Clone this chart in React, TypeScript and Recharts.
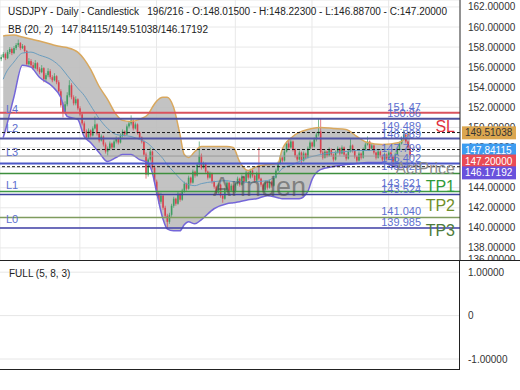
import {
  ComposedChart,
  Bar,
  Line,
  Area,
  XAxis,
  YAxis,
  CartesianGrid,
  ReferenceLine,
} from "recharts";

const SLOTS = 216;

// daily bars: [open, high, low, close]
const candles: number[][] = [
  [156.8, 157.25, 156.6, 157.0], [157.0, 157.5, 156.9, 157.3], [157.3, 157.45, 156.7, 156.9], [156.9, 157.7, 156.8, 157.5],
  [157.5, 158.0, 157.3, 157.8], [157.8, 157.95, 157.2, 157.4], [157.4, 158.1, 157.3, 157.9], [157.9, 158.4, 157.7, 158.2],
  [158.2, 158.75, 158.0, 158.4], [158.4, 158.5, 157.7, 157.9], [157.9, 158.3, 157.8, 158.1], [158.1, 158.2, 157.4, 157.6],
  [157.6, 157.7, 156.1, 156.3], [156.3, 156.9, 156.1, 156.6], [156.6, 156.8, 156.0, 156.2], [156.2, 156.5, 155.7, 155.9],
  [155.9, 156.7, 155.8, 156.4], [156.4, 156.5, 155.6, 155.8], [155.8, 156.0, 155.3, 155.5], [155.5, 156.2, 155.4, 155.9],
  [155.9, 156.0, 154.5, 154.8], [154.8, 155.4, 154.6, 155.2], [155.2, 155.9, 155.0, 155.6], [155.6, 155.8, 154.8, 155.0],
  [155.0, 155.2, 154.5, 154.7], [154.7, 155.4, 154.6, 155.1], [155.1, 155.2, 154.3, 154.5], [154.5, 154.7, 153.4, 153.6],
  [153.6, 153.8, 152.0, 152.2], [152.2, 152.5, 151.0, 151.5], [151.5, 152.6, 151.3, 152.3], [152.3, 153.5, 152.1, 153.2],
  [153.2, 154.7, 153.0, 154.2], [154.2, 154.4, 152.8, 153.0], [153.0, 153.2, 152.2, 152.4], [152.4, 153.1, 152.2, 152.8],
  [152.8, 152.9, 151.7, 151.9], [151.9, 152.1, 151.1, 151.3], [151.3, 151.5, 150.2, 150.4], [150.4, 150.6, 149.4, 149.6],
  [149.6, 149.8, 148.8, 149.0], [149.0, 149.9, 148.9, 149.7], [149.7, 149.8, 149.0, 149.2], [149.2, 150.1, 149.1, 149.9],
  [149.9, 151.1, 149.8, 150.3], [150.3, 150.4, 149.2, 149.4], [149.4, 149.5, 148.5, 148.7], [148.7, 149.3, 148.6, 149.1],
  [149.1, 149.2, 148.1, 148.3], [148.3, 148.5, 147.4, 147.6], [147.6, 148.1, 147.2, 147.9], [147.9, 148.6, 147.7, 148.4],
  [148.4, 148.5, 147.8, 148.0], [148.0, 148.8, 147.9, 148.6], [148.6, 149.1, 148.4, 148.9], [148.9, 149.0, 148.3, 148.5],
  [148.5, 149.4, 148.4, 149.2], [149.2, 149.8, 149.0, 149.6], [149.6, 149.7, 149.1, 149.3], [149.3, 150.3, 149.2, 150.1],
  [150.1, 150.6, 149.9, 150.4], [150.4, 151.2, 150.2, 150.7], [150.7, 150.8, 149.7, 149.9], [149.9, 150.5, 149.8, 150.3],
  [150.3, 150.4, 149.3, 149.5], [149.5, 149.6, 148.8, 149.0], [149.0, 149.1, 148.4, 148.6], [148.6, 148.7, 147.1, 147.3],
  [147.3, 147.5, 144.9, 145.3], [145.3, 147.0, 145.1, 146.8], [146.8, 148.0, 146.6, 147.6], [147.6, 147.7, 145.8, 146.0],
  [146.0, 146.2, 144.4, 144.6], [144.6, 144.8, 143.2, 143.4], [143.4, 143.6, 142.4, 142.6], [142.6, 143.5, 142.4, 143.2],
  [143.2, 143.3, 141.8, 142.0], [142.0, 142.2, 141.0, 141.2], [141.2, 141.4, 139.9, 140.6], [140.6, 141.5, 140.4, 141.3],
  [141.3, 142.4, 141.1, 142.2], [142.2, 143.1, 142.0, 142.9], [142.9, 143.0, 142.2, 142.4], [142.4, 143.6, 142.3, 143.4],
  [143.4, 143.5, 142.6, 142.8], [142.8, 143.9, 142.7, 143.7], [143.7, 144.6, 143.5, 144.4], [144.4, 144.5, 143.7, 143.9],
  [143.9, 145.2, 143.8, 145.0], [145.0, 145.1, 144.3, 144.5], [144.5, 145.8, 144.4, 145.6], [145.6, 145.7, 145.0, 145.2],
  [145.2, 146.5, 145.1, 146.3], [146.3, 148.6, 146.1, 147.2], [147.2, 147.4, 145.8, 146.0], [146.0, 146.6, 145.9, 146.4],
  [146.4, 146.5, 145.4, 145.6], [145.6, 145.7, 144.8, 145.0], [145.0, 145.6, 144.9, 145.4], [145.4, 145.5, 144.4, 144.6],
  [144.6, 144.7, 143.9, 144.1], [144.1, 144.2, 143.3, 143.5], [143.5, 144.5, 143.4, 144.3], [144.3, 144.4, 143.0, 143.2],
  [143.2, 143.3, 142.5, 142.9], [142.9, 144.0, 142.8, 143.8], [143.8, 144.7, 143.6, 144.5], [144.5, 144.6, 143.5, 143.7],
  [143.7, 144.4, 143.6, 144.2], [144.2, 144.3, 143.4, 143.6], [143.6, 144.6, 143.5, 144.4], [144.4, 145.1, 144.2, 144.9],
  [144.9, 145.0, 144.1, 144.3], [144.3, 145.3, 144.2, 145.1], [145.1, 145.2, 144.4, 144.6], [144.6, 145.7, 144.5, 145.5],
  [145.5, 145.6, 144.8, 145.0], [145.0, 145.9, 144.9, 145.7], [145.7, 145.8, 145.0, 145.2], [145.2, 145.3, 144.5, 144.7],
  [144.7, 145.6, 144.6, 145.4], [145.4, 148.0, 144.7, 144.9], [144.9, 145.0, 144.1, 144.3], [144.3, 144.4, 143.6, 143.8],
  [143.8, 144.7, 143.7, 144.5], [144.5, 144.6, 143.8, 144.0], [144.0, 144.8, 143.9, 144.6], [144.6, 144.7, 144.0, 144.2],
  [144.2, 145.2, 144.1, 145.0], [145.0, 145.9, 144.9, 145.7], [145.7, 146.6, 145.6, 146.4], [146.4, 147.2, 146.3, 147.0],
  [147.0, 147.1, 146.5, 146.7], [146.7, 147.8, 146.6, 147.6], [147.6, 148.6, 147.5, 148.4], [148.4, 148.9, 147.8, 148.0],
  [148.0, 148.8, 147.9, 148.6], [148.6, 148.7, 147.6, 147.8], [147.8, 147.9, 147.0, 147.2], [147.2, 147.3, 146.6, 146.8],
  [146.8, 147.7, 146.7, 147.5], [147.5, 147.6, 146.3, 146.7], [146.7, 147.6, 146.6, 147.4], [147.4, 147.5, 146.8, 147.0],
  [147.0, 148.1, 146.9, 147.9], [147.9, 148.7, 147.8, 148.5], [148.5, 148.6, 147.9, 148.1], [148.1, 149.0, 148.0, 148.8],
  [148.8, 149.5, 148.6, 149.3], [149.3, 150.9, 149.1, 149.6], [149.6, 150.9, 147.3, 147.5], [147.5, 147.7, 146.8, 147.0],
  [147.0, 147.8, 146.9, 147.6], [147.6, 147.7, 147.0, 147.2], [147.2, 148.0, 147.1, 147.8], [147.8, 147.9, 147.1, 147.3],
  [147.3, 147.4, 146.6, 146.8], [146.8, 147.7, 146.7, 147.5], [147.5, 148.1, 147.4, 147.9], [147.9, 148.0, 147.2, 147.4],
  [147.4, 148.2, 147.3, 148.0], [148.0, 148.1, 147.1, 147.3], [147.3, 147.4, 146.7, 146.9], [146.9, 147.8, 146.8, 147.6],
  [147.6, 148.9, 147.5, 148.2], [148.2, 148.3, 147.5, 147.7], [147.7, 147.8, 146.9, 147.1], [147.1, 147.2, 146.5, 146.7],
  [146.7, 147.6, 146.6, 147.4], [147.4, 147.5, 146.8, 147.0], [147.0, 148.0, 146.9, 147.8], [147.8, 148.5, 147.7, 148.3],
  [148.3, 149.1, 148.2, 148.6], [148.6, 148.7, 147.7, 147.9], [147.9, 148.4, 147.8, 148.2], [148.2, 148.3, 147.3, 147.5],
  [147.5, 147.6, 146.8, 147.0], [147.0, 147.8, 146.9, 147.6], [147.6, 147.7, 147.0, 147.2], [147.2, 147.3, 146.6, 146.8],
  [146.8, 147.5, 146.7, 147.3], [147.3, 147.4, 146.7, 146.9], [146.9, 147.7, 146.8, 147.5], [147.5, 147.6, 146.9, 147.1],
  [147.1, 147.2, 146.2, 146.6], [146.6, 147.5, 146.5, 147.3], [147.3, 148.0, 147.2, 147.8], [147.8, 148.6, 147.7, 148.4],
  [148.4, 149.1, 148.3, 148.9], [148.9, 149.8, 148.7, 149.3], [149.3, 149.4, 148.4, 148.6], [148.6, 148.7, 147.8, 148.0],
  [148.015, 148.223, 146.887, 147.2],
];

// Bollinger bands (20, 2) at these bar indexes
const bbAt = [1, 2, 6, 10, 14, 18, 24, 28, 31, 36, 39, 42, 46, 50, 54, 57, 61, 65, 69, 71, 73, 76, 78, 81, 84, 86, 88, 91, 94, 100, 106, 109, 112, 116, 120, 125, 130, 132, 137, 140, 144, 146, 150, 156, 162, 167, 172, 179, 187, 192];
const bbUpper = [159.1, 159.15, 159.2, 159.0, 158.8, 158.6, 158.25, 158.05, 157.95, 157.5, 156.8, 155.8, 154.1, 152.8, 151.3, 150.7, 150.6, 150.8, 151.3, 152.0, 152.6, 153.0, 153.0, 152.0, 149.3, 147.3, 147.0, 147.6, 148.1, 148.1, 148.1, 148.0, 146.6, 145.7, 146.1, 146.3, 146.4, 147.8, 149.1, 149.5, 149.8, 149.9, 150.0, 149.9, 149.8, 149.1, 148.5, 148.3, 148.5, 149.51038];
const bbMiddle = [154.8, 155.3, 156.5, 157.4, 157.5, 157.2, 156.7, 156.0, 155.2, 153.9, 153.2, 152.2, 150.9, 149.9, 149.3, 149.2, 149.1, 148.8, 148.4, 148.0, 147.6, 146.9, 146.3, 145.6, 144.9, 144.5, 144.3, 144.2, 144.4, 144.6, 144.7, 144.6, 144.6, 144.5, 144.6, 144.7, 145.4, 145.9, 146.3, 146.6, 147.0, 147.1, 147.3, 147.5, 147.6, 147.7, 147.7, 147.8, 147.8, 147.84115];
const bbLower = [149.0, 149.7, 153.0, 156.2, 156.0, 155.0, 154.1, 153.0, 151.1, 150.8, 149.1, 148.5, 147.5, 146.6, 147.0, 147.3, 147.3, 146.8, 146.5, 145.5, 143.6, 140.9, 139.9, 139.7, 139.7, 140.3, 140.6, 140.4, 140.8, 141.9, 142.4, 142.5, 142.6, 142.8, 142.9, 143.2, 143.0, 142.9, 142.9, 142.9, 143.6, 144.8, 145.8, 146.1, 146.3, 146.4, 146.5, 146.5, 146.0, 146.17192];

const priceTicks = [136, 138, 140, 142, 144, 146, 148, 150, 152, 154, 156, 158, 160, 162];
const gridBars = [37, 73, 110, 146, 182];
const oscTicks = [-1, 0, 1];

// horizontal levels drawn across the chart
const levelPrices = [151.47, 150.86, 149.489, 148.889, 147.799, 147.15, 146.402, 146.09, 145.42, 143.621, 143.324, 141.04, 139.985];
const levelTexts = ["151.47", "150.86", "149.489", "148.889", "147.799", "", "146.402", "", "145.420", "143.621", "143.524", "141.040", "139.985"];
const levelNames = ["L4", "", "L2", "", "", "L3", "", "", "", "L1", "", "", "L0"];
const levelTags = ["", "", "SL", "", "", "", "", "", "ActPrice", "TP1", "", "TP2", "TP3"];

const last = candles[candles.length - 1];
const lastBB = bbAt.length - 1;

const UP = "#3f9d62";
const DOWN = "#d9434f";
const BLUE_TXT = "#5d6fcf";
const PRICE_DOMAIN: [number, number] = [136, 162.69];
// the oscillator pane is drawn on an axis offset by this amount so that its zero line is a plain positive value
const OSC_BASE = 10;
const OSC_DOMAIN: [number, number] = [OSC_BASE - 1.23, OSC_BASE + 1.28];

const levelLooks = [
  { stroke: "#d9535d", width: 2, textDy: -2, nameDy: 0, tagDy: 0, tagColor: "" },
  { stroke: "#4d509c", width: 2, textDy: -2, nameDy: 0, tagDy: 0, tagColor: "" },
  { stroke: "#1a1a1a", width: 1, dash: "3 2", textDy: -3, nameDy: -0.5, tagDy: -1, tagColor: "#e0303c" },
  { stroke: "#5256a6", width: 2, textDy: -1, nameDy: 0, tagDy: 0, tagColor: "" },
  { stroke: "#1a1a1a", width: 1, dash: "3 2", textDy: 2, nameDy: 0, tagDy: 0, tagColor: "" },
  { stroke: "#9a9a9a", width: 1, textDy: -2, nameDy: 0, tagDy: 0, tagColor: "" },
  { stroke: "#4b57c8", width: 2, textDy: -2, nameDy: 0, tagDy: 0, tagColor: "" },
  { stroke: "#1a1a1a", width: 1, dash: "3 2", textDy: -2, nameDy: 0, tagDy: 0, tagColor: "" },
  { stroke: "#3e8f3e", width: 1.5, textDy: -3, nameDy: 0, tagDy: 1, tagColor: "#8c8c8c" },
  { stroke: "#3f9a45", width: 1.5, textDy: -4, nameDy: -2.5, tagDy: 1, tagColor: "#2f9a3a" },
  { stroke: "#3d42a0", width: 1.5, textDy: -1, nameDy: 0, tagDy: 0, tagColor: "" },
  { stroke: "#7f9c5e", width: 1.5, textDy: -2, nameDy: 0, tagDy: -6, tagColor: "#6f8f2a" },
  { stroke: "#4141a8", width: 1.5, textDy: -2, nameDy: -5, tagDy: 8.5, tagColor: "#4d7a3a" },
];

// value boxes on the price axis
const boxPrices = [bbUpper[lastBB], bbMiddle[lastBB], last[3], bbLower[lastBB]];
const boxLooks = [
  { fill: "#dba64f", color: "#333", dy: 0.5 },
  { fill: "#3d9cf0", color: "#fff", dy: 1 },
  { fill: "#ea4b55", color: "#fff", dy: 5.5 },
  { fill: "#6951dc", color: "#fff", dy: 7 },
];

const rows = Array.from({ length: SLOTS }, (_, i) => {
  const k = candles[i];
  const b = bbAt.indexOf(i);
  return {
    i,
    o: k ? k[0] : null,
    h: k ? k[1] : null,
    l: k ? k[2] : null,
    c: k ? k[3] : null,
    band: b >= 0 ? [bbLower[b], bbUpper[b]] : null,
    up: b >= 0 ? bbUpper[b] : null,
    mid: b >= 0 ? bbMiddle[b] : null,
    lo: b >= 0 ? bbLower[b] : null,
    osc: null,
  };
});

const Candle = (props: any) => {
  const { x, y, width, height, payload } = props;
  if (!payload || payload.o == null) return null;
  const { o, h, l, c } = payload;
  const k = height / (h - l || 1);
  const cx = x + width / 2;
  const top = y + (h - Math.max(o, c)) * k;
  const bot = y + (h - Math.min(o, c)) * k;
  const col = c >= o ? UP : DOWN;
  return (
    <g>
      <line x1={cx} x2={cx} y1={y} y2={y + height} stroke={col} strokeWidth={0.7} />
      <rect x={cx - 0.8} y={top} width={1.6} height={Math.max(0.8, bot - top)} fill={col} />
    </g>
  );
};

const LevelMarks = (props: any) => {
  const { viewBox, text, name, tag, look } = props;
  if (!viewBox) return null;
  const y = viewBox.y;
  const right = viewBox.x + viewBox.width;
  return (
    <g>
      {text ? (
        <text x={right - 39} y={y + look.textDy} textAnchor="end" fontSize={11} fill={BLUE_TXT}>
          {text}
        </text>
      ) : null}
      {name ? (
        <text x={viewBox.x + 6} y={y + look.nameDy} fontSize={11} fill={BLUE_TXT}>
          {name}
        </text>
      ) : null}
      {tag ? (
        <text x={right - 5} y={y + look.tagDy} textAnchor="end" fontSize={16} fill={look.tagColor}>
          {tag}
        </text>
      ) : null}
    </g>
  );
};

const PriceBox = (props: any) => {
  const { viewBox, text, look } = props;
  if (!viewBox) return null;
  const y = viewBox.y + look.dy;
  const left = viewBox.x + viewBox.width + 2;
  return (
    <g>
      <rect x={left} y={y - 6.5} width={54} height={13} fill={look.fill} />
      <text x={left + 3} y={y + 3.5} fontSize={10} fill={look.color}>
        {text}
      </text>
    </g>
  );
};

// label for the oscillator panel, drawn at the right of its grid line
const OscLabel = (props: any) => {
  const { viewBox, text } = props;
  if (!viewBox) return null;
  return (
    <text x={viewBox.x + viewBox.width + 8} y={viewBox.y + 3.5} fontSize={10} fill="#333">
      {text}
    </text>
  );
};

const PriceTick = (p: any) => (
  <text x={p.x} y={Math.min(p.y, 259)} dy={3.5} fontSize={10} fill="#333">
    {Number(p.payload.value).toFixed(5)}
  </text>
);

const oscFormat = (v: number) => (v === 0 ? "0" : v.toFixed(5));

const header = `USDJPY - Daily - Candlestick   ${candles.length + 3}/${SLOTS} - O:${last[0].toFixed(5)} - H:${last[1].toFixed(5)} - L:${last[2].toFixed(5)} - C:${last[3].toFixed(5)}`;
const bbHeader = `BB (20, 2)   ${bbMiddle[lastBB].toFixed(5)}/${bbUpper[lastBB].toFixed(5)}/${bbLower[lastBB].toFixed(5)}`;

export default function App() {
  return (
    <div
      style={{
        position: "absolute",
        left: 0,
        top: 0,
        width: 520,
        height: 390,
        background: "#fff",
        fontFamily: "'Liberation Sans', Arial, sans-serif",
        overflow: "hidden",
      }}
    >
      <div style={{ position: "absolute", left: 0, top: 0 }}>
        <ComposedChart width={520} height={268} data={rows} margin={{ top: 0, right: 0, left: 0, bottom: 0 }}>
          <CartesianGrid stroke="#e8e8e8" strokeWidth={1} />
          <XAxis dataKey="i" type="category" hide ticks={gridBars} />
          <YAxis
            orientation="right"
            width={60}
            domain={PRICE_DOMAIN}
            ticks={priceTicks}
            interval={0}
            allowDataOverflow
            axisLine={{ stroke: "#333" }}
            tickLine={false}
            tick={<PriceTick />}
          />
          <Area
            dataKey="band"
            type="monotone"
            fill="#bdbdbd"
            fillOpacity={0.9}
            stroke="none"
            connectNulls
            isAnimationActive={false}
          />
          <Line dataKey="mid" type="monotone" stroke="#6a9dbf" strokeWidth={1} dot={false} connectNulls isAnimationActive={false} />
          <Line dataKey="up" type="monotone" stroke="#d9a85e" strokeWidth={1.5} dot={false} connectNulls isAnimationActive={false} />
          <Line dataKey="lo" type="monotone" stroke="#7466d9" strokeWidth={1.5} dot={false} connectNulls isAnimationActive={false} />
          <Bar
            dataKey={(d: any) => (d.o == null ? null : [d.l, d.h])}
            shape={<Candle />}
            isAnimationActive={false}
          />
          {levelPrices.map((p, n) => (
            <ReferenceLine
              key={"lv" + n}
              y={p}
              stroke={levelLooks[n].stroke}
              strokeWidth={levelLooks[n].width}
              strokeDasharray={levelLooks[n].dash}
              label={<LevelMarks text={levelTexts[n]} name={levelNames[n]} tag={levelTags[n]} look={levelLooks[n]} />}
            />
          ))}
        </ComposedChart>
      </div>

      {/* value boxes sit on top of the axis labels */}
      <div style={{ position: "absolute", left: 0, top: 0, pointerEvents: "none" }}>
        <ComposedChart width={520} height={268} data={rows} margin={{ top: 0, right: 60, left: 0, bottom: 0 }}>
          <XAxis dataKey="i" type="category" hide />
          <YAxis hide domain={PRICE_DOMAIN} allowDataOverflow />
          <Line dataKey="osc" stroke="none" dot={false} isAnimationActive={false} />
          {boxPrices.map((p, n) => (
            <ReferenceLine
              key={"bx" + n}
              y={p}
              stroke="none"
              label={<PriceBox text={p.toFixed(5)} look={boxLooks[n]} />}
            />
          ))}
        </ComposedChart>
      </div>

      <div
        style={{
          position: "absolute",
          left: 213,
          top: 172,
          fontSize: 27,
          color: "rgba(70,70,70,0.55)",
          pointerEvents: "none",
        }}
      >
        Arinden
      </div>

      <div style={{ position: "absolute", left: 8, top: 6, fontSize: 10, color: "#222", whiteSpace: "pre", lineHeight: "12px" }}>
        {header}
      </div>
      <div style={{ position: "absolute", left: 8, top: 24, fontSize: 10, color: "#222", whiteSpace: "pre", lineHeight: "12px" }}>
        {bbHeader}
      </div>

      <div style={{ position: "absolute", left: 0, top: 260, width: 520, height: 130, background: "#fff" }}>
        <ComposedChart width={520} height={109} data={rows} margin={{ top: 0, right: 60, left: 0, bottom: 0 }}>
          <XAxis dataKey="i" type="category" hide />
          <YAxis hide domain={OSC_DOMAIN} allowDataOverflow />
          <Line dataKey="osc" stroke="#1f77b4" dot={false} isAnimationActive={false} />
          {oscTicks.map((v, n) => (
            <ReferenceLine
              key={"os" + n}
              y={OSC_BASE + v}
              stroke="#e6e6e6"
              strokeWidth={1}
              label={<OscLabel text={oscFormat(v)} />}
            />
          ))}
        </ComposedChart>
        <div
          style={{
            position: "absolute",
            left: 0,
            top: 0,
            width: 460,
            height: 110,
            boxSizing: "border-box",
            borderRight: "1px solid #222",
            borderBottom: "1px solid #222",
            borderTop: "1px solid #222",
          }}
        />
        <div style={{ position: "absolute", left: 460, top: 0, width: 60, height: 1, background: "#222" }} />
        <div style={{ position: "absolute", left: 9, top: 8, fontSize: 10, color: "#222", lineHeight: "12px" }}>
          FULL (5, 8, 3)
        </div>
      </div>
    </div>
  );
}
